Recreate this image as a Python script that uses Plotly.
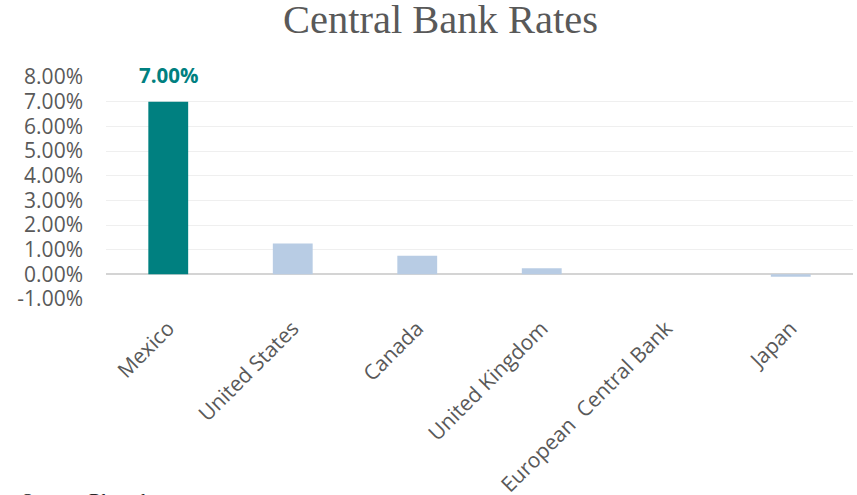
import plotly.graph_objects as go

# Policy rates by central bank
banks = ["Mexico", "United States", "Canada", "United Kingdom",
         "European  Central Bank", "Japan"]
rates = [7.00, 1.25, 0.75, 0.25, 0.00, -0.10]
bar_colors = ["#008080", "#b8cce4", "#b8cce4", "#b8cce4", "#b8cce4", "#b8cce4"]

tick_vals = [-1, 0, 1, 2, 3, 4, 5, 6, 7, 8]
tick_text = [f"{v:.2f}%" for v in tick_vals]

SANS = "Open Sans, sans-serif"
SERIF = "Liberation Serif, DejaVu Serif, serif"

fig = go.Figure(
    go.Bar(
        x=banks,
        y=rates,
        marker=dict(color=bar_colors, line=dict(width=0)),
        width=0.32,
        cliponaxis=False,
    )
)

# Value label for the highlighted bar
fig.add_annotation(
    x=banks[0], y=rates[0],
    text=f"<b>{rates[0]:.2f}%</b>",
    showarrow=False,
    yanchor="bottom",
    yshift=11,
    font=dict(family=SANS, size=20.5, color="#008080"),
)

fig.add_annotation(
    text="<i>Source: Bloomberg</i>",
    xref="paper", yref="paper",
    x=-0.116, xanchor="left",
    y=-0.853, yanchor="top",
    showarrow=False,
    font=dict(family=SERIF, size=20, color="#262626"),
)

fig.update_layout(
    width=857,
    height=495,
    margin=dict(l=106, r=4, t=77, b=196, autoexpand=False),
    paper_bgcolor="white",
    plot_bgcolor="white",
    showlegend=False,
    title=dict(
        text="Central Bank Rates",
        x=0.514,
        xanchor="center",
        xref="container",
        yref="container",
        y=0.99,
        yanchor="top",
        pad=dict(t=0, b=0),
        font=dict(family=SERIF, size=40.5, color="#595959"),
    ),
    xaxis=dict(
        tickangle=-45,
        tickfont=dict(family=SANS, size=21, color="#595959"),
        showgrid=False,
        showline=False,
        ticks="",
        ticklabelstandoff=12,
        automargin=False,
    ),
    yaxis=dict(
        range=[-1, 8],
        tickvals=tick_vals,
        ticktext=tick_text,
        tickfont=dict(family=SANS, size=21, color="#595959"),
        showgrid=True,
        gridcolor="#efefef",
        gridwidth=1,
        zeroline=True,
        zerolinecolor="#d4d4d4",
        zerolinewidth=2,
        ticks="",
        ticklabelstandoff=22,
        automargin=False,
    ),
)

fig.write_html("out.html")
